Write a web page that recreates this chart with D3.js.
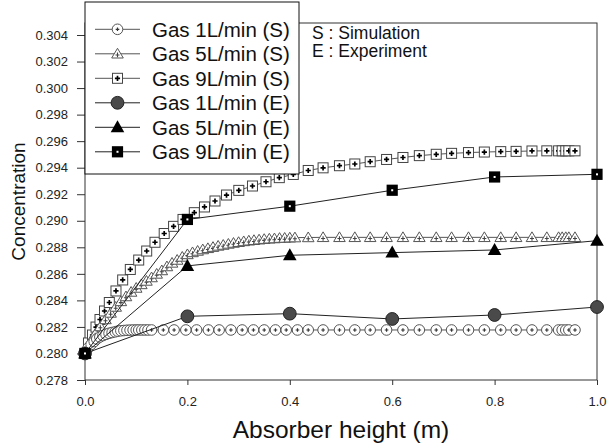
<!DOCTYPE html>
<html><head><meta charset="utf-8">
<script src="https://cdn.jsdelivr.net/npm/d3@7"></script>
<style>body{margin:0;background:#fff}svg{display:block;font-family:"Liberation Sans",Arial,sans-serif}</style>
</head><body><svg id="c" width="608" height="445"></svg>
<script>
// ---------- data ----------
const xTicks = [0, 0.2, 0.4, 0.6, 0.8, 1.0];
const yTicks = [0.278, 0.280, 0.282, 0.284, 0.286, 0.288, 0.290, 0.292, 0.294, 0.296, 0.298, 0.300, 0.302, 0.304];

const sim1X = [0, 0.006, 0.012, 0.018, 0.023, 0.029, 0.035, 0.041, 0.047, 0.053, 0.059, 0.064, 0.070, 0.076, 0.082, 0.088, 0.094, 0.100, 0.105, 0.111, 0.117, 0.123,
  0.130, 0.153, 0.174, 0.197, 0.218, 0.241, 0.262, 0.285, 0.307, 0.329, 0.350, 0.372, 0.393, 0.415,
  0.436, 0.465, 0.497, 0.527, 0.557, 0.589, 0.621, 0.653, 0.686, 0.716, 0.749, 0.780, 0.812, 0.842, 0.873, 0.902, 0.925, 0.932, 0.939, 0.945, 0.957];
const sim1Y = [0.2800, 0.28041, 0.28068, 0.28090, 0.28109, 0.28124, 0.28135, 0.28144, 0.28152, 0.28158, 0.28163, 0.28168, 0.28171, 0.28173, 0.28175, 0.28176, 0.28177, 0.28177, 0.28177, 0.28177, 0.28177, 0.28177,
  0.28177, 0.28177, 0.28177, 0.28177, 0.28177, 0.28177, 0.28177, 0.28177, 0.28177, 0.28177, 0.28177, 0.28177, 0.28177, 0.28177,
  0.28177, 0.28177, 0.28177, 0.28177, 0.28177, 0.28177, 0.28177, 0.28177, 0.28177, 0.28177, 0.28177, 0.28177, 0.28177, 0.28177, 0.28177, 0.28177, 0.28177, 0.28177, 0.28177, 0.28177, 0.28177];

const sim5X = [0, 0.01, 0.02, 0.03, 0.04, 0.05, 0.06, 0.07, 0.08, 0.09, 0.10, 0.11, 0.12, 0.13, 0.14, 0.15, 0.16, 0.17, 0.18, 0.19, 0.20,
  0.21, 0.22, 0.23, 0.24, 0.25, 0.26, 0.27, 0.28, 0.29, 0.30, 0.31, 0.32, 0.33, 0.34, 0.35, 0.36, 0.37, 0.38, 0.39, 0.40, 0.41,
  0.436, 0.465, 0.497, 0.527, 0.557, 0.589, 0.621, 0.653, 0.686, 0.716, 0.749, 0.780, 0.812, 0.842, 0.873, 0.902, 0.925, 0.932, 0.939, 0.945, 0.957];
const sim5Y = [0.2800, 0.28086, 0.28147, 0.28203, 0.28256, 0.28305, 0.28350, 0.28392, 0.28429, 0.28463, 0.28493, 0.28520, 0.28546, 0.28572, 0.28599, 0.28625, 0.28655, 0.28682, 0.28704, 0.28727, 0.28746,
  0.28761, 0.28772, 0.28783, 0.28792, 0.28801, 0.28810, 0.28817, 0.28825, 0.28832, 0.28838, 0.28844, 0.28849, 0.28853, 0.28857, 0.28861, 0.28864, 0.28866, 0.28869, 0.28870, 0.28872, 0.28873,
  0.28874, 0.28875, 0.28875, 0.28875, 0.28875, 0.28875, 0.28875, 0.28875, 0.28875, 0.28875, 0.28875, 0.28875, 0.28875, 0.28875, 0.28875, 0.28875, 0.28875, 0.28875, 0.28875, 0.28875, 0.28875];

const sim9X = [0, 0.0068, 0.0146, 0.0215, 0.0293, 0.0381, 0.0475, 0.0605, 0.0736, 0.0885, 0.1049, 0.1205, 0.1367, 0.1547, 0.1730, 0.1914, 0.2135, 0.2334, 0.2539, 0.2764, 0.3004, 0.3271, 0.3535, 0.3795, 0.4068,
  0.436, 0.465, 0.497, 0.527, 0.557, 0.589, 0.621, 0.653, 0.686, 0.716, 0.749, 0.780, 0.812, 0.842, 0.873, 0.902, 0.925, 0.932, 0.939, 0.945, 0.957];
const sim9Y = [0.2800, 0.28079, 0.28139, 0.28199, 0.28256, 0.28320, 0.28384, 0.28471, 0.28554, 0.28633, 0.28704, 0.28772, 0.28838, 0.28904, 0.28958, 0.29010, 0.29061, 0.29104, 0.29149, 0.29194, 0.29229, 0.29262, 0.29294, 0.29325, 0.29349,
  0.29379, 0.29399, 0.29415, 0.29428, 0.29445, 0.29462, 0.29477, 0.29491, 0.29501, 0.29508, 0.29514, 0.29518, 0.29521, 0.29523, 0.29526, 0.29527, 0.29527, 0.29527, 0.29527, 0.29527, 0.29527];

const expX = [0, 0.2, 0.4, 0.6, 0.8, 1.0];
const exp1Y = [0.2800, 0.2828, 0.2830, 0.2826, 0.2829, 0.2835];
const exp5Y = [0.2800, 0.2866, 0.2874, 0.2876, 0.2878, 0.2885];
const exp9Y = [0.2800, 0.2901, 0.2911, 0.2923, 0.2933, 0.2935];

const legendLabels = ["Gas 1L/min (S)", "Gas 5L/min (S)", "Gas 9L/min (S)", "Gas 1L/min (E)", "Gas 5L/min (E)", "Gas 9L/min (E)"];
const noteLines = ["S : Simulation", "E : Experiment"];

// ---------- chart ----------
const svg = d3.select('#c');
const W = 608, H = 445;
const m = {l: 85, r: 11, t: 23, b: 65};
const x = d3.scaleLinear().domain([0, 1]).range([m.l, W - m.r]);
const y = d3.scaleLinear().domain([0.278, 0.304]).range([H - m.b, 35]);

// frame
svg.append('rect').attr('x', m.l).attr('y', m.t).attr('width', W - m.r - m.l).attr('height', H - m.b - m.t)
  .attr('fill', 'none').attr('stroke', '#333').attr('stroke-width', 1);

const xAxis = svg.append('g').attr('transform', `translate(0,${H - m.b})`)
  .call(d3.axisBottom(x).tickValues(xTicks).tickFormat(d3.format('.1f')).tickSizeInner(5).tickSizeOuter(0).tickPadding(12));
const yAxis = svg.append('g').attr('transform', `translate(${m.l},0)`)
  .call(d3.axisLeft(y).tickValues(yTicks).tickFormat(d3.format('.3f')).tickSizeInner(8).tickSizeOuter(0).tickPadding(9));
[xAxis, yAxis].forEach(a => {
  a.select('.domain').remove();
  a.selectAll('line').attr('stroke', '#333');
  a.selectAll('text').attr('font-size', 13).attr('fill', '#222').attr('font-family', '"Liberation Sans",Arial,sans-serif');
});

svg.append('text').attr('x', (m.l + W - m.r) / 2).attr('y', 438).attr('text-anchor', 'middle')
  .attr('font-size', 24.5).attr('fill', '#111').text('Absorber height (m)');
svg.append('text').attr('transform', `translate(25,${(m.t + H - m.b) / 2}) rotate(-90)`).attr('text-anchor', 'middle')
  .attr('font-size', 19).attr('fill', '#111').text('Concentration');

// markers
function marker(g, type) {
  if (type === 'sc') {
    g.append('circle').attr('r', 5.3).attr('fill', '#fff').attr('stroke', '#555').attr('stroke-width', 1);
    g.append('path').attr('d', 'M-1.8,0H1.8M0,-1.8V1.8').attr('stroke', '#333').attr('stroke-width', 1.2);
  } else if (type === 'st') {
    g.append('path').attr('d', 'M0,-5.5L5.8,4.2L-5.8,4.2Z').attr('fill', '#fff').attr('stroke', '#555').attr('stroke-width', 1);
    g.append('path').attr('d', 'M-2,1.2H2M0,-1.2V3.4').attr('stroke', '#444').attr('stroke-width', 1.1);
  } else if (type === 'ss') {
    g.append('rect').attr('x', -5).attr('y', -5).attr('width', 10).attr('height', 10).attr('fill', '#fff').attr('stroke', '#444').attr('stroke-width', 1);
    g.append('path').attr('d', 'M-2.6,0H2.6M0,-2.6V2.6').attr('stroke', '#000').attr('stroke-width', 1.7);
  } else if (type === 'ec') {
    g.append('circle').attr('r', 6.4).attr('fill', '#4a4a4a').attr('stroke', '#222').attr('stroke-width', 1);
  } else if (type === 'et') {
    g.append('path').attr('d', 'M0,-7L6.8,5L-6.8,5Z').attr('fill', '#000');
  } else if (type === 'es') {
    g.append('rect').attr('x', -5.6).attr('y', -5.6).attr('width', 11.2).attr('height', 11.2).attr('fill', '#000');
    g.append('rect').attr('x', -1).attr('y', -1).attr('width', 2).attr('height', 2).attr('fill', '#fff');
  }
}

const series = [
  {xs: sim9X, ys: sim9Y, type: 'ss', stroke: '#555'},
  {xs: sim5X, ys: sim5Y, type: 'st', stroke: '#555'},
  {xs: sim1X, ys: sim1Y, type: 'sc', stroke: '#555'},
  {xs: expX, ys: exp1Y, type: 'ec', stroke: '#222'},
  {xs: expX, ys: exp5Y, type: 'et', stroke: '#222'},
  {xs: expX, ys: exp9Y, type: 'es', stroke: '#222'}
];
const line = d3.line().x(d => x(d[0])).y(d => y(d[1]));
series.forEach(s => {
  const pts = s.xs.map((v, i) => [v, s.ys[i]]);
  svg.append('path').datum(pts).attr('d', line).attr('fill', 'none').attr('stroke', s.stroke).attr('stroke-width', 1);
  svg.append('g').selectAll('g').data(pts).join('g')
    .attr('transform', d => `translate(${x(d[0])},${y(d[1])})`)
    .each(function () { marker(d3.select(this), s.type); });
});

// note
svg.append('g').selectAll('text').data(noteLines).join('text')
  .attr('x', 312).attr('y', (d, i) => 39 + i * 18.3).attr('font-size', 17.5).attr('fill', '#111').text(d => d);

// legend
const lg = svg.append('g');
lg.append('rect').attr('x', 85).attr('y', 2).attr('width', 214).attr('height', 172).attr('fill', '#fff').attr('stroke', '#111').attr('stroke-width', 1);
const legTypes = ['sc', 'st', 'ss', 'ec', 'et', 'es'];
const legStroke = ['#555', '#555', '#555', '#222', '#222', '#222'];
legendLabels.forEach((lab, i) => {
  const cy = 29.3 + i * 24.5;
  lg.append('line').attr('x1', 95).attr('x2', 140).attr('y1', cy).attr('y2', cy).attr('stroke', legStroke[i]).attr('stroke-width', 1);
  const g = lg.append('g').attr('transform', `translate(117.5,${cy})`);
  marker(g, legTypes[i]);
  lg.append('text').attr('x', 152).attr('y', cy + 7.3).attr('font-size', 20.5).attr('fill', '#111').text(lab);
});
</script></body></html>
